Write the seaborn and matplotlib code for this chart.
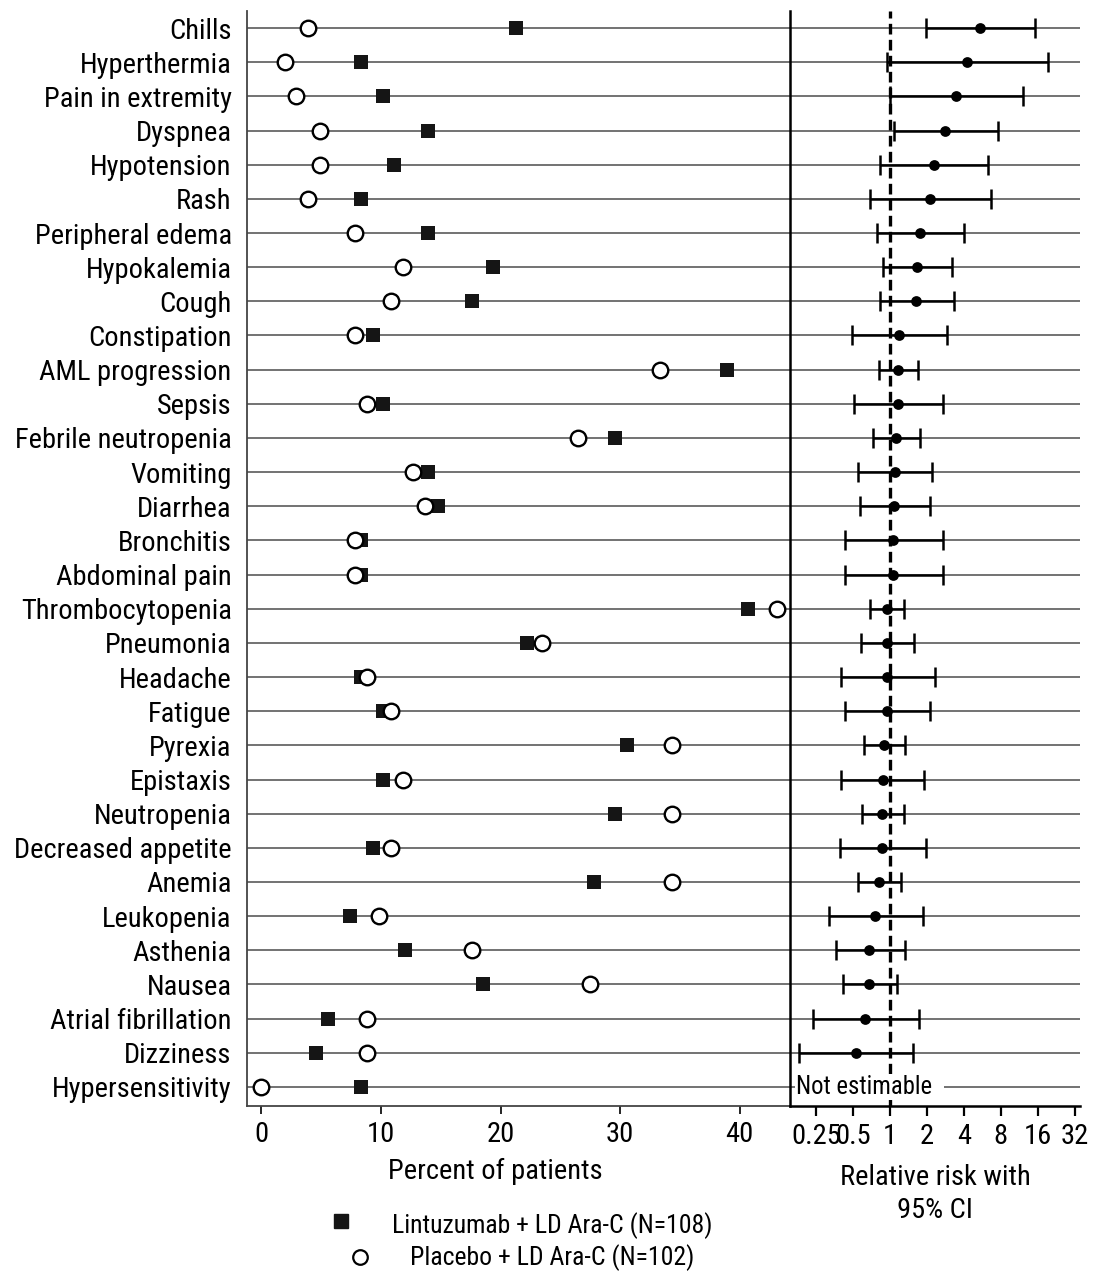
import numpy as np
import matplotlib
matplotlib.use("Agg")
import matplotlib.pyplot as plt
from matplotlib import font_manager
from matplotlib.lines import Line2D
import seaborn as sns

# -----------------------------
# Data
# -----------------------------
events = ["Chills", "Hyperthermia", "Pain in extremity", "Dyspnea", "Hypotension",
          "Rash", "Peripheral edema", "Hypokalemia", "Cough", "Constipation",
          "AML progression", "Sepsis", "Febrile neutropenia", "Vomiting", "Diarrhea",
          "Bronchitis", "Abdominal pain", "Thrombocytopenia", "Pneumonia", "Headache",
          "Fatigue", "Pyrexia", "Epistaxis", "Neutropenia", "Decreased appetite",
          "Anemia", "Leukopenia", "Asthenia", "Nausea", "Atrial fibrillation",
          "Dizziness", "Hypersensitivity"]

# percent of patients
lintuzumab_pct = [21.3, 8.3, 10.2, 13.9, 11.1, 8.3, 13.9, 19.4, 17.6, 9.3,
                  38.9, 10.2, 29.6, 13.9, 14.8, 8.3, 8.3, 40.7, 22.2, 8.3,
                  10.2, 30.6, 10.2, 29.6, 9.3, 27.8, 7.4, 12.0, 18.5, 5.6,
                  4.6, 8.3]
placebo_pct = [3.9, 2.0, 2.9, 4.9, 4.9, 3.9, 7.8, 11.8, 10.8, 7.8,
               33.3, 8.8, 26.5, 12.7, 13.7, 7.8, 7.8, 43.1, 23.5, 8.8,
               10.8, 34.3, 11.8, 34.3, 10.8, 34.3, 9.8, 17.6, 27.5, 8.8,
               8.8, 0.0]

# relative risk with 95% CI (nan = not estimable)
rr = [5.43, 4.25, 3.46, 2.83, 2.27, 2.13, 1.77, 1.65, 1.63, 1.18,
      1.17, 1.16, 1.12, 1.09, 1.08, 1.06, 1.06, 0.94, 0.94, 0.94,
      0.94, 0.89, 0.87, 0.86, 0.86, 0.81, 0.76, 0.68, 0.67, 0.63,
      0.53, np.nan]
rr_lo = [1.97, 0.95, 1.0, 1.08, 0.83, 0.69, 0.79, 0.88, 0.83, 0.49,
         0.82, 0.51, 0.73, 0.55, 0.57, 0.43, 0.43, 0.69, 0.58, 0.40,
         0.43, 0.61, 0.40, 0.59, 0.39, 0.545, 0.32, 0.36, 0.41, 0.235,
         0.18, np.nan]
rr_hi = [15.3, 19.3, 12.2, 7.6, 6.3, 6.7, 4.04, 3.22, 3.31, 2.92,
         1.68, 2.69, 1.76, 2.21, 2.13, 2.69, 2.69, 1.31, 1.58, 2.31,
         2.12, 1.33, 1.89, 1.30, 1.95, 1.22, 1.86, 1.33, 1.13, 1.71,
         1.54, np.nan]

pct_ticks = [0, 10, 20, 30, 40]
rr_ticks = [0.25, 0.5, 1, 2, 4, 8, 16, 32]
rr_tick_labels = ["0.25", "0.5", "1", "2", "4", "8", "16", "32"]

# -----------------------------
# Style
# -----------------------------
sns.set_theme(style="white")

# the reference uses a condensed sans; take one if installed
installed = {f.name for f in font_manager.fontManager.ttflist}
narrow = [n for n in ("Liberation Sans Narrow", "Roboto Condensed",
                      "Open Sans Condensed", "Noto Sans Condensed") if n in installed]
if narrow:
    plt.rcParams["font.family"] = [narrow[0], "DejaVu Sans"]
    FS, FS_LEG, FS_NOTE = 20.5, 18.5, 17.7
else:
    plt.rcParams["font.family"] = ["Liberation Sans", "DejaVu Sans"]
    FS, FS_LEG, FS_NOTE = 18, 16, 15.5
plt.rcParams["text.color"] = "black"
plt.rcParams["axes.labelcolor"] = "black"
plt.rcParams["xtick.color"] = "black"
plt.rcParams["ytick.color"] = "black"

ROW_COLOR = "#5a5a5a"

pos = np.arange(len(events))
rr = np.array(rr)
rr_lo = np.array(rr_lo)
rr_hi = np.array(rr_hi)
valid = ~np.isnan(rr)

fig = plt.figure(figsize=(11.02, 12.8), dpi=100)
ax_l = fig.add_axes([0.2241, 0.1359, 0.4927, 0.8555])
ax_r = fig.add_axes([0.7169, 0.1359, 0.2632, 0.8555], sharey=ax_l)

# -----------------------------
# Left panel: percent of patients
# -----------------------------
for y in pos:
    ax_l.axhline(y, color=ROW_COLOR, lw=1.2, zorder=1)
sns.scatterplot(x=lintuzumab_pct, y=pos, ax=ax_l, marker="s", s=105,
                color="#151515", linewidth=0, zorder=3)
sns.scatterplot(x=placebo_pct, y=pos, ax=ax_l, marker="o", s=125,
                color="white", edgecolor="black", linewidth=1.7, zorder=4)

ax_l.set_xlim(-1.21, 44.2)
ax_l.set_ylim(len(events) - 1 + 0.56, -0.5)
ax_l.set_xticks(pct_ticks)
ax_l.set_xticklabels([str(t) for t in pct_ticks], fontsize=FS)
ax_l.set_yticks(pos)
ax_l.set_yticklabels(events, fontsize=FS)
ax_l.tick_params(axis="y", length=0, pad=11)
ax_l.tick_params(axis="x", bottom=True, length=6, width=1.2, pad=5, direction="out")
ax_l.set_xlabel("Percent of patients", fontsize=FS, labelpad=10)
ax_l.xaxis.set_label_coords(0.458, -0.047)
ax_l.spines["top"].set_visible(False)
ax_l.spines["right"].set_visible(False)
for s in ["left", "bottom"]:
    ax_l.spines[s].set_color("#444444")
    ax_l.spines[s].set_linewidth(1.3)

# -----------------------------
# Right panel: relative risk
# -----------------------------
for y in pos:
    ax_r.axhline(y, color=ROW_COLOR, lw=1.2, zorder=1)
ax_r.axvline(1, color="black", lw=2.4, dashes=(3.2, 1.6), zorder=2)
ax_r.errorbar(rr[valid], pos[valid],
              xerr=[rr[valid] - rr_lo[valid], rr_hi[valid] - rr[valid]],
              fmt="none", ecolor="black", elinewidth=1.8, capsize=7, capthick=1.8,
              zorder=3)
sns.scatterplot(x=rr[valid], y=pos[valid], ax=ax_r, marker="o", s=60,
                color="black", linewidth=0, zorder=4)
for y in pos[~valid]:
    ax_r.text(0.02, y, "Not estimable  ", transform=ax_r.get_yaxis_transform(),
              fontsize=FS_NOTE, va="center", ha="left", zorder=5,
              bbox=dict(facecolor="white", edgecolor="none", pad=0.5))

ax_r.set_xscale("log", base=2)
ax_r.set_xlim(2 ** -2.71, 2 ** 5.15)
ax_r.set_xticks(rr_ticks)
ax_r.set_xticklabels(rr_tick_labels, fontsize=FS)
ax_r.minorticks_off()
ax_r.tick_params(axis="y", left=False, labelleft=False)
ax_r.tick_params(axis="x", bottom=True, length=7, width=1.6, pad=5, direction="out")
ax_r.set_xlabel("Relative risk with\n95% CI", fontsize=FS, labelpad=10,
                linespacing=1.3)
ax_r.spines["top"].set_visible(False)
ax_r.spines["right"].set_visible(False)
ax_r.spines["left"].set_color("black")
ax_r.spines["left"].set_linewidth(1.8)
ax_r.spines["bottom"].set_color("black")
ax_r.spines["bottom"].set_linewidth(1.8)

# -----------------------------
# Legend (manual, centred text as in the reference)
# -----------------------------
fig.add_artist(Line2D([341 / 1102], [1 - 1221 / 1280], marker="s", markersize=10,
                      color="#151515", linestyle="none"))
fig.add_artist(Line2D([360 / 1102], [1 - 1257 / 1280], marker="o", markersize=10.5,
                      markerfacecolor="white", markeredgecolor="black",
                      markeredgewidth=1.6, linestyle="none"))
fig.text(552 / 1102, 1 - 1226 / 1280, "Lintuzumab + LD Ara-C (N=108)",
         fontsize=FS_LEG, ha="center", va="center")
fig.text(552 / 1102, 1 - 1258 / 1280, "Placebo + LD Ara-C (N=102)",
         fontsize=FS_LEG, ha="center", va="center")

fig.savefig("out.png", dpi=100)
